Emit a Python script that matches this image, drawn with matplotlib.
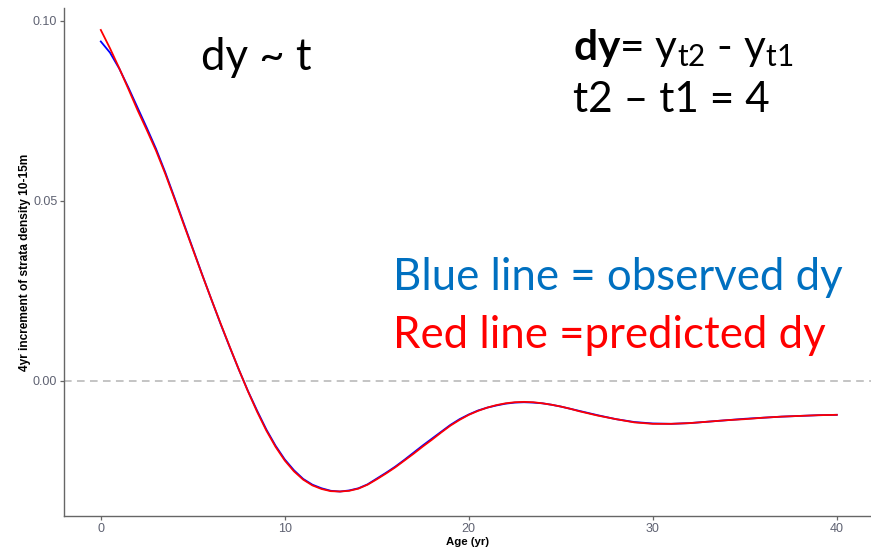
import matplotlib
matplotlib.use("Agg")
import matplotlib.pyplot as plt

# Age (yr) at which the 4-yr increments are evaluated
age = [0, 0.5, 1, 1.5, 2, 2.5, 3, 3.5, 4, 4.5, 5, 5.5, 6, 6.5, 7, 7.5, 8, 8.5,
       9, 9.5, 10, 10.5, 11, 11.5, 12, 12.5, 13, 13.5, 14, 14.5, 15, 15.5, 16,
       16.5, 17, 17.5, 18, 18.5, 19, 19.5, 20, 20.5, 21, 21.5, 22, 22.5, 23,
       23.5, 24, 24.5, 25, 25.5, 26, 27, 28, 29, 30, 31, 32, 33, 34, 35, 36,
       37, 38, 39, 40]

# Observed 4-yr increment of strata density (10-15 m)
observed_dy = [0.0943, 0.0912, 0.0868, 0.0815, 0.0759, 0.0703, 0.0645, 0.0580,
               0.0510, 0.0439, 0.0368, 0.0297, 0.0228, 0.0160, 0.0095, 0.0032,
               -0.0028, -0.0083, -0.0135, -0.0180, -0.0218, -0.0248, -0.0272,
               -0.0288, -0.0298, -0.0305, -0.0307, -0.0304, -0.0298, -0.0287,
               -0.0271, -0.0255, -0.0238, -0.0219, -0.0199, -0.0179, -0.0160,
               -0.0141, -0.0122, -0.0106, -0.0093, -0.0082, -0.0074, -0.0068,
               -0.0063, -0.0060, -0.0059, -0.0060, -0.0062, -0.0066, -0.0071,
               -0.0077, -0.0083, -0.0095, -0.0106, -0.0114, -0.0118, -0.0119,
               -0.0117, -0.0113, -0.0109, -0.0105, -0.0102, -0.0099, -0.0097,
               -0.0095, -0.0094]

# Model-predicted 4-yr increment
predicted_dy = [0.0975, 0.0924, 0.0869, 0.0811, 0.0752, 0.0697, 0.0640, 0.0576,
                0.0507, 0.0436, 0.0366, 0.0296, 0.0228, 0.0161, 0.0096, 0.0032,
                -0.0029, -0.0086, -0.0138, -0.0183, -0.0221, -0.0251, -0.0274,
                -0.0290, -0.0300, -0.0306, -0.0307, -0.0305, -0.0299, -0.0288,
                -0.0273, -0.0257, -0.0240, -0.0221, -0.0202, -0.0182, -0.0163,
                -0.0143, -0.0124, -0.0108, -0.0094, -0.0083, -0.0074, -0.0067,
                -0.0062, -0.0059, -0.0058, -0.0059, -0.0062, -0.0066, -0.0071,
                -0.0077, -0.0084, -0.0096, -0.0106, -0.0115, -0.0119, -0.0119,
                -0.0117, -0.0113, -0.0109, -0.0106, -0.0102, -0.0099, -0.0097,
                -0.0095, -0.0094]

x_ticks = [0, 10, 20, 30, 40]
y_ticks = [0.00, 0.05, 0.10]
y_tick_labels = ["0.00", "0.05", "0.10"]

TITLE_FONT = "Lato"
TITLE_SIZE = 31.5
plt.rcParams["mathtext.fontset"] = "custom"
plt.rcParams["mathtext.rm"] = TITLE_FONT
plt.rcParams["mathtext.it"] = TITLE_FONT
plt.rcParams["mathtext.bf"] = TITLE_FONT + ":bold"

fig = plt.figure(figsize=(8.71, 5.56), dpi=100)
ax = fig.add_axes([64 / 871, 40 / 556, 807 / 871, 508 / 556])

ax.axhline(0, color="#b4b4b4", lw=1.1, ls=(0, (5, 3.5)), zorder=1)
ax.plot(age, observed_dy, color="#0000ff", lw=1.3, zorder=2)
ax.plot(age, predicted_dy, color="#ff0000", lw=1.3, zorder=3)

ax.set_xlim(-2, 41.86)
ax.set_ylim(-0.0375, 0.1036)
ax.set_xticks(x_ticks)
ax.set_yticks(y_ticks)
ax.set_yticklabels(y_tick_labels)

for side in ("top", "right"):
    ax.spines[side].set_visible(False)
for side in ("left", "bottom"):
    ax.spines[side].set_color("#666666")
    ax.spines[side].set_linewidth(1.0)

ax.tick_params(axis="both", colors="#666666", length=2.8, width=0.9,
               labelcolor="#5f6272", labelsize=9, pad=2.0)
for lab in ax.get_xticklabels() + ax.get_yticklabels():
    lab.set_family("Liberation Sans")

ax.set_xlabel("Age (yr)", fontsize=8.2, fontweight="bold",
              family="Liberation Sans", labelpad=2)
ax.set_ylabel("4yr increment of strata density 10-15m", fontsize=8.6,
              fontweight="bold", family="Liberation Sans")
ax.yaxis.set_label_coords(-0.0405, 0.5)

# Annotations
fig.text(256 / 871, 1 - 57 / 556, "dy ~ t", fontsize=TITLE_SIZE,
         family=TITLE_FONT, ha="center", va="center", color="black")
fig.text(573 / 871, 1 - 48 / 556,
         r"$\mathbf{dy}$= y$_\mathrm{t2}$ - y$_\mathrm{t1}$",
         fontsize=TITLE_SIZE - 1, family=TITLE_FONT, ha="left", va="center",
         color="black")
fig.text(573 / 871, 1 - 100 / 556, "t2 \u2013 t1 = 4", fontsize=TITLE_SIZE - 1,
         family=TITLE_FONT, ha="left", va="center", color="black")
fig.text(393 / 871, 1 - 277 / 556, "Blue line = observed dy",
         fontsize=TITLE_SIZE, family=TITLE_FONT, ha="left", va="center",
         color="#0070c0")
fig.text(393 / 871, 1 - 335 / 556, "Red line =predicted dy",
         fontsize=TITLE_SIZE, family=TITLE_FONT, ha="left", va="center",
         color="#ff0000")

fig.savefig("out.png", dpi=100)
